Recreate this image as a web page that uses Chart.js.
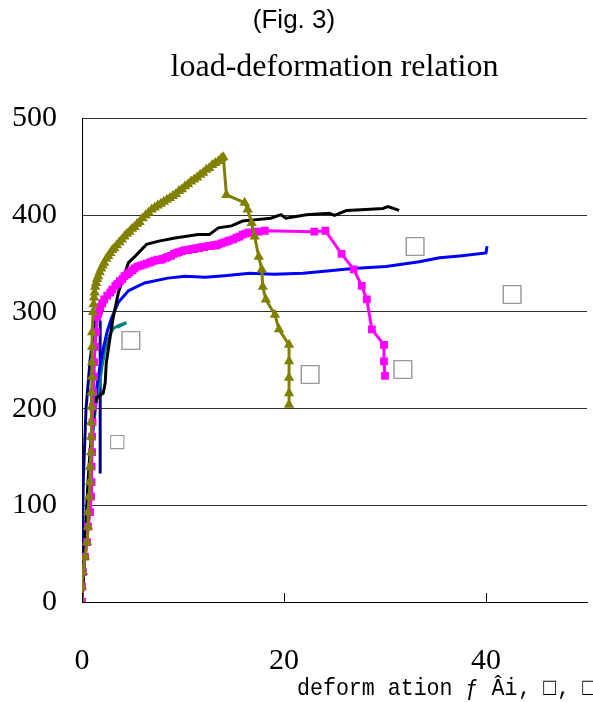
<!DOCTYPE html>
<html>
<head>
<meta charset="utf-8">
<title>load-deformation relation</title>
<script src="https://cdn.jsdelivr.net/npm/chart.js"></script>
<style>
  body { margin: 0; background: #fff; }
  #wrap { width: 593px; height: 702px; }
</style>
</head>
<body>
<div id="wrap"><canvas id="chart"></canvas></div>
<script>
// series: deformation (x) vs load (y)
const oliveX = [0, 0, 0.1, 0.3, 0.5, 0.6, 0.6, 0.7, 0.8, 0.8, 0.9, 0.9, 0.9, 0.96, 0.96, 1.0, 1.0, 1.0, 1.0,
  1.1, 1.15, 1.2, 1.25, 1.3, 1.4, 1.5, 1.6, 1.75, 1.9, 2.05, 2.2, 2.4, 2.6, 2.8, 3.0, 3.2, 3.45, 3.7, 3.95,
  4.2, 4.45, 4.7, 4.95, 5.2, 5.45, 5.7, 6.0, 6.3, 6.6, 6.9, 7.2, 7.5, 7.8, 8.1, 8.4, 8.7, 9.0, 9.3, 9.6,
  9.9, 10.2, 10.5, 10.8, 11.1, 11.4, 11.7, 12.0, 12.3, 12.6, 12.9, 13.2, 13.5, 13.8, 14.0,
  14.3, 16.1, 16.4, 16.8, 17.1, 17.5, 17.8, 17.9, 18.2, 19.1, 19.5, 20.5, 20.5, 20.5, 20.5, 20.5];
const oliveY = [0, 16, 31, 47, 62, 78, 93, 109, 124, 140, 155, 171, 186, 202, 217, 233, 248, 264, 279,
  300, 308, 315, 320, 326, 330, 334, 337, 341, 345, 348, 351, 355, 358, 361, 364, 366, 369, 372, 375,
  378, 381, 383, 386, 388, 391, 393, 397, 400, 403, 406, 408, 410, 412, 414, 416, 418, 420, 422, 425,
  427, 430, 432, 435, 437, 439, 442, 444, 447, 449, 452, 454, 456, 459, 460,
  421, 413, 406, 392, 378, 357, 344, 326, 313, 297, 282, 266, 249, 232, 216, 204];

const pinkX = [0, 0, 0.1, 0.3, 0.5, 0.6, 0.8, 0.9, 0.95, 0.95, 1.0, 1.0, 1.05, 1.1, 1.1, 1.2, 1.2, 1.3, 1.4,
  1.5, 1.6, 1.7, 1.8, 2.0, 2.2, 2.5, 2.8, 3.0, 3.3, 3.5, 3.75, 4.0, 4.2, 4.5, 4.7, 5.0, 5.2, 5.5, 5.8,
  6.1, 6.4, 6.7, 6.9, 7.2, 7.5, 7.8, 8.0, 8.3, 8.5, 8.8, 9.1, 9.4, 9.6, 9.9, 10.2, 10.5, 10.8, 11.1, 11.3,
  11.6, 11.8, 12.1, 12.4, 12.7, 13.0, 13.3, 13.5, 13.8, 14.1, 14.4, 14.6, 15.0, 15.3, 15.6, 15.9, 16.2,
  16.5, 16.8, 17.1, 17.5, 18.1,
  23.0, 24.1, 25.7, 26.9, 27.7, 28.2, 28.7, 29.9, 29.9, 30.0];
const pinkY = [0, 16, 31, 47, 62, 78, 93, 109, 124, 140, 155, 171, 186, 202, 217, 233, 248, 264, 279,
  295, 298, 301, 305, 309, 313, 317, 320, 323, 327, 329, 332, 334, 337, 339, 341, 343, 345, 347, 348,
  349, 350, 351, 352, 353, 354, 354, 355, 356, 357, 358, 360, 361, 362, 363, 364, 364, 365, 365, 366,
  366, 367, 367, 368, 368, 369, 369, 370, 371, 372, 373, 374, 375, 377, 378, 380, 381,
  382, 382, 383, 383, 384,
  383, 384, 360, 344, 327, 313, 282, 266, 249, 234];

const blackX = [0, 0.2, 0.4, 0.6, 0.8, 1.0, 1.2, 1.45, 1.7, 2.1, 2.3, 2.4, 2.8, 3.1, 3.6, 4.6, 5.2, 6.4, 7.5, 9.2,
  10.2, 11.5, 12.6, 13.5, 14.8, 15.9, 17.3, 18.7, 19.7, 20.2, 22.2, 24.5, 25.0, 26.2, 28.1, 29.8, 30.3, 31.4];
const blackY = [0, 40, 85, 125, 155, 180, 198, 211, 213, 216, 227, 247, 275, 295, 320, 351, 357, 370, 373, 376.5,
  378, 380, 380, 387, 389, 394, 395.5, 397, 400.6, 397, 400.6, 402, 400, 405, 406, 407, 409, 405];

const blueX = [0, 0.3, 0.6, 0.9, 1.2, 1.5, 1.8, 2.1, 2.5, 2.9, 3.6, 4.6, 6.2, 8.5, 10.2, 12.2, 14.1, 16.6, 19.0,
  21.9, 24.0, 26.8, 30.1, 33.4, 35.4, 37.4, 40.0, 40.1];
const blueY = [0, 60, 110, 155, 195, 225, 245, 262, 280, 293, 310, 322, 330, 335, 337, 336, 337.5, 340, 339,
  340, 342, 345, 347, 352, 356, 358, 361, 368];

const tealX = [0, 0.2, 0.5, 0.8, 1.1, 1.4, 1.7, 2.0, 2.3, 2.7, 3.1, 3.6, 4.4, 3.5];
const tealY = [0, 40, 90, 140, 180, 205, 222, 245, 262, 275, 283, 286, 289, 284];

const navyX = [0, 0.05, 0.13, 0.4, 0.8, 1.3, 1.6, 1.8, 1.8, 1.8];
const navyY = [0, 60, 126, 200, 250, 292, 296, 290, 200, 133];

// axis ticks
const xTicks = [0, 20, 40];
const yTicks = [0, 100, 200, 300, 400, 500];

// label glyphs that did not render in the original (shown as empty boxes)
const noteX = [33.0, 42.6, 4.85, 22.6, 31.8, 3.5];
const noteY = [368, 318, 270, 235, 240, 165];
const noteText = ['□', '□', '□', '□', '□', '□'];

const xTitle = 'deform ation ƒ Âi‚ □‚ □j';

function pts(xs, ys) {
  return xs.map((x, i) => ({ x: x, y: ys[i] }));
}

const extras = {
  id: 'extras',
  afterDraw(chart) {
    const ctx = chart.ctx;
    const xs = chart.scales.x, ys = chart.scales.y;
    ctx.save();
    // inward tick marks on x axis
    ctx.strokeStyle = '#000';
    ctx.lineWidth = 1;
    xTicks.forEach(v => {
      const px = Math.round(xs.getPixelForValue(v)) + 0.5;
      ctx.beginPath();
      ctx.moveTo(px, ys.bottom);
      ctx.lineTo(px, ys.bottom - 9);
      ctx.stroke();
    });
    // box labels
    ctx.fillStyle = '#999';
    ctx.textAlign = 'center';
    ctx.textBaseline = 'middle';
    noteText.forEach((t, i) => {
      ctx.font = (i === 5 ? '19px' : '25px') + ' "DejaVu Sans"';
      ctx.fillText(t, xs.getPixelForValue(noteX[i]), ys.getPixelForValue(noteY[i]));
    });
    // x axis title
    ctx.fillStyle = '#000';
    ctx.textAlign = 'left';
    ctx.textBaseline = 'alphabetic';
    ctx.font = '24px "Liberation Mono"';
    ctx.translate(xs.left + 215, chart.height - 7);
    ctx.scale(0.9, 1);
    ctx.fillText(xTitle, 0, 0);
    ctx.restore();
  }
};

function series(label, xs, ys, color, style, radius) {
  return {
    label: label,
    data: pts(xs, ys),
    borderColor: color,
    backgroundColor: color,
    borderWidth: 3,
    pointStyle: style || 'circle',
    pointRadius: radius || 0,
    pointBorderWidth: 0,
    tension: 0
  };
}

new Chart(document.getElementById('chart'), {
  type: 'line',
  data: {
    datasets: [
      series('A', oliveX, oliveY, '#808000', 'triangle', 6),
      series('B', pinkX, pinkY, '#ff00ff', 'rect', 5.5),
      series('C', blackX, blackY, '#000000'),
      series('D', blueX, blueY, '#0000ff'),
      series('E', tealX, tealY, '#008080'),
      series('F', navyX, navyY, '#000080')
    ]
  },
  options: {
    responsive: true,
    maintainAspectRatio: false,
    animation: false,
    layout: { padding: { left: 0, right: 5, top: 0, bottom: 0 } },
    plugins: {
      legend: { display: false },
      tooltip: { enabled: false },
      title: {
        display: true,
        text: '(Fig. 3)',
        color: '#000',
        font: { family: '"Liberation Sans", Arial', size: 26, weight: 'normal' },
        padding: { top: 5, bottom: 2 }
      },
      subtitle: {
        display: true,
        fullSize: false,
        text: 'load-deformation relation',
        color: '#000',
        font: { family: '"Liberation Serif", "Times New Roman"', size: 32 },
        padding: { top: 10, bottom: 32 }
      }
    },
    scales: {
      x: {
        type: 'linear',
        min: 0,
        max: 50,
        afterFit(s) { s.height = 100; },
        afterBuildTicks(s) { s.ticks = xTicks.map(v => ({ value: v })); },
        ticks: {
          color: '#000',
          padding: 41,
          font: { family: '"Liberation Serif", "Times New Roman"', size: 30 }
        },
        grid: { display: false, drawTicks: false },
        border: { display: true, color: '#000', width: 1 }
      },
      y: {
        min: 0,
        max: 500,
        afterFit(s) { s.width = 82; },
        afterBuildTicks(s) { s.ticks = yTicks.map(v => ({ value: v })); },
        ticks: {
          color: '#000',
          padding: 25,
          font: { family: '"Liberation Serif", "Times New Roman"', size: 30 }
        },
        grid: { color: '#333', lineWidth: 1, drawTicks: false },
        border: { display: true, color: '#000', width: 1 }
      }
    }
  },
  plugins: [extras]
});
</script>
</body>
</html>
